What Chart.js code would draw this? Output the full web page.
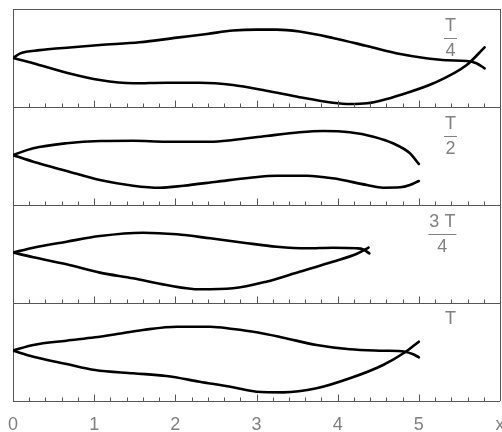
<!DOCTYPE html>
<html>
<head>
<meta charset="utf-8">
<style>
  html, body { margin: 0; padding: 0; background: #ffffff; }
  #wrap { width: 502px; height: 432px; position: relative; }
</style>
<script src="https://cdn.jsdelivr.net/npm/chart.js@4.4.1/dist/chart.umd.min.js"></script>
</head>
<body>
<div id="wrap"><canvas id="c" width="502" height="432"></canvas></div>
<script>
// ---------- data ----------
const tickLabels = ['0', '1', '2', '3', '4', '5', 'x'];
const panelNumerators = ['T', 'T', '3 T', 'T'];
const panelDenominators = ['4', '2', '4', ''];

// Panel 1 (T/4)
const q1UpperX = [0, 0.09, 0.33, 0.66, 1.07, 1.56, 2.02, 2.39, 2.71, 3.0, 3.25, 3.53, 3.94, 4.36, 4.77, 5.09, 5.34, 5.59, 5.71, 5.81];
const q1UpperY = [0, 0.095, 0.16, 0.21, 0.265, 0.32, 0.415, 0.49, 0.56, 0.58, 0.58, 0.54, 0.41, 0.245, 0.08, -0.006, -0.047, -0.06, -0.108, -0.21];
const q1LowerX = [0, 0.25, 0.66, 1.07, 1.48, 1.89, 2.30, 2.71, 3.12, 3.53, 3.94, 4.15, 4.36, 4.56, 4.77, 5.18, 5.59, 5.81];
const q1LowerY = [0, -0.108, -0.30, -0.45, -0.516, -0.504, -0.504, -0.55, -0.667, -0.80, -0.912, -0.94, -0.925, -0.857, -0.755, -0.516, -0.143, 0.218];

// Panel 2 (T/2)
const q2UpperX = [0, 0.25, 0.66, 1.07, 1.48, 1.89, 2.43, 2.71, 3.12, 3.53, 3.82, 4.15, 4.44, 4.68, 4.89, 5.0];
const q2UpperY = [0.02, 0.157, 0.26, 0.306, 0.312, 0.292, 0.292, 0.327, 0.408, 0.484, 0.51, 0.484, 0.394, 0.26, 0.055, -0.163];
const q2LowerX = [0, 0.25, 0.66, 1.07, 1.48, 1.81, 2.10, 2.51, 2.92, 3.25, 3.62, 3.94, 4.36, 4.56, 4.77, 4.89, 5.0];
const q2LowerY = [0.02, -0.116, -0.306, -0.49, -0.606, -0.647, -0.606, -0.524, -0.443, -0.402, -0.402, -0.455, -0.592, -0.647, -0.639, -0.592, -0.51];

// Panel 3 (3T/4)
const q3UpperX = [0, 0.25, 0.66, 1.07, 1.60, 2.02, 2.43, 2.84, 3.25, 3.62, 3.94, 4.23, 4.31, 4.39];
const q3UpperY = [0.03, 0.129, 0.251, 0.367, 0.435, 0.402, 0.32, 0.231, 0.149, 0.116, 0.129, 0.116, 0.096, 0.014];
const q3LowerX = [0, 0.25, 0.66, 1.07, 1.48, 1.89, 2.30, 2.71, 3.12, 3.53, 3.94, 4.23, 4.38];
const q3LowerY = [0.03, -0.067, -0.21, -0.38, -0.496, -0.633, -0.72, -0.70, -0.565, -0.361, -0.157, 0, 0.129];

// Panel 4 (T)
const q4UpperX = [0, 0.25, 0.66, 1.01, 1.28, 1.60, 2.02, 2.43, 2.71, 3.00, 3.33, 3.74, 4.15, 4.56, 4.83, 4.93, 5.0];
const q4UpperY = [0.03, 0.143, 0.231, 0.30, 0.367, 0.449, 0.516, 0.516, 0.469, 0.402, 0.292, 0.143, 0.055, 0.027, 0.006, -0.047, -0.108];
const q4LowerX = [0, 0.25, 0.66, 1.01, 1.48, 1.89, 2.30, 2.71, 3.00, 3.33, 3.74, 4.15, 4.56, 4.83, 5.0];
const q4LowerY = [0.03, -0.096, -0.245, -0.367, -0.435, -0.49, -0.606, -0.72, -0.81, -0.823, -0.741, -0.537, -0.265, -0.006, 0.21];

// ---------- build datasets ----------
const panels = [
  [q1UpperX, q1UpperY, q1LowerX, q1LowerY],
  [q2UpperX, q2UpperY, q2LowerX, q2LowerY],
  [q3UpperX, q3UpperY, q3LowerX, q3LowerY],
  [q4UpperX, q4UpperY, q4LowerX, q4LowerY]
];
const datasets = [];
panels.forEach((p, i) => {
  const centre = 7 - 2 * i;
  for (let k = 0; k < 2; k++) {
    const xs = p[2 * k], ys = p[2 * k + 1];
    datasets.push({
      data: xs.map((x, j) => ({ x: x, y: ys[j] + centre })),
      borderColor: '#000000',
      borderWidth: 2.6,
      pointRadius: 0,
      fill: false,
      tension: 0.4,
      cubicInterpolationMode: 'monotone',
      borderCapStyle: 'round',
      borderJoinStyle: 'round'
    });
  }
});

const GREY = '#555555';
const LABEL_FONT = '18px "Liberation Sans Narrow", "Liberation Sans", sans-serif';

const panelDecor = {
  id: 'panelDecor',
  afterDatasetsDraw(chart) {
    const ctx = chart.ctx;
    const xs = chart.scales.x, ys = chart.scales.y;
    ctx.save();
    // inner minor / major ticks on each panel bottom
    ctx.strokeStyle = GREY;
    ctx.lineWidth = 1;
    for (let b = 0; b < 4; b++) {
      const py = Math.round(ys.getPixelForValue(2 * b)) + 0.5;
      for (let t = 1; t < 30; t++) {
        const px = Math.round(xs.getPixelForValue(t / 5)) + 0.5;
        const len = (t % 5 === 0) ? 7 : 4;
        ctx.beginPath();
        ctx.moveTo(px, py);
        ctx.lineTo(px, py - len);
        ctx.stroke();
      }
    }
    // fraction labels
    ctx.fillStyle = '#808080';
    ctx.strokeStyle = '#808080';
    ctx.font = LABEL_FONT;
    ctx.textAlign = 'center';
    ctx.textBaseline = 'alphabetic';
    for (let i = 0; i < 4; i++) {
      const top = ys.getPixelForValue(8 - 2 * i);
      const cx = (i === 2) ? xs.getPixelForValue(5.29) : xs.getPixelForValue(5.39);
      const num = panelNumerators[i], den = panelDenominators[i];
      if (den) {
        ctx.fillText(num, cx, top + 22);
        const w = Math.max(ctx.measureText(num).width, ctx.measureText(den).width);
        ctx.beginPath();
        ctx.moveTo(cx - w / 2 - 1, Math.round(top + 29) + 0.5);
        ctx.lineTo(cx + w / 2 + 1, Math.round(top + 29) + 0.5);
        ctx.stroke();
        ctx.fillText(den, cx, top + 47);
      } else {
        ctx.fillText(num, cx, top + 21);
      }
    }
    ctx.restore();
  }
};

new Chart(document.getElementById('c'), {
  type: 'line',
  data: { datasets: datasets },
  options: {
    responsive: false,
    animation: false,
    events: [],
    layout: { padding: { left: 13, right: 2, top: 9, bottom: 0 } },
    plugins: { legend: { display: false }, tooltip: { enabled: false } },
    scales: {
      x: {
        type: 'linear',
        min: 0,
        max: 6,
        afterFit: (s) => { s.paddingLeft = 0; s.paddingRight = 0; s.paddingBottom = 0; s.height = 31; },
        ticks: {
          stepSize: 1,
          autoSkip: false,
          maxRotation: 0,
          padding: 15,
          color: '#808080',
          font: { family: '"Liberation Sans Narrow", "Liberation Sans", sans-serif', size: 18, lineHeight: 1 },
          callback: (v, i) => tickLabels[i]
        },
        grid: {
          drawTicks: false,
          color: (c) => (c.tick && c.tick.value === 6) ? GREY : 'rgba(0,0,0,0)',
          lineWidth: 1
        },
        border: { display: false }
      },
      y: {
        type: 'linear',
        min: 0,
        max: 8,
        afterFit: (s) => { s.width = 0; },
        ticks: { display: false, stepSize: 2 },
        grid: { drawTicks: false, color: GREY, lineWidth: 1 },
        border: { display: true, color: GREY, width: 1 }
      }
    }
  },
  plugins: [panelDecor]
});
</script>
</body>
</html>
